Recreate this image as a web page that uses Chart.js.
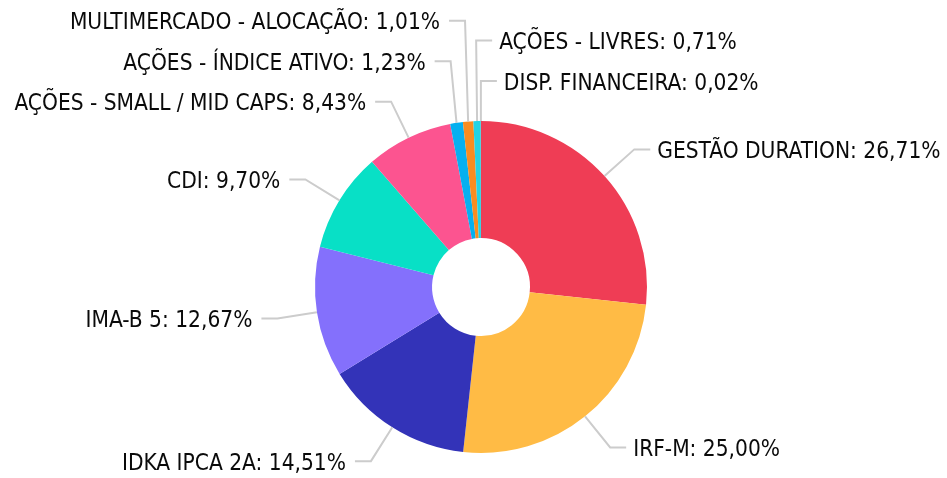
<!DOCTYPE html>
<html>
<head>
<meta charset="utf-8">
<script src="https://cdn.jsdelivr.net/npm/chart.js@4.4.1/dist/chart.umd.min.js"></script>
<style>
  html, body { margin: 0; padding: 0; background: #ffffff; }
  #wrap { width: 947px; height: 478px; }
</style>
</head>
<body>
<div id="wrap"><canvas id="c" width="947" height="478"></canvas></div>
<script>
const categories = [
  "GESTÃO DURATION",
  "IRF-M",
  "IDKA IPCA 2A",
  "IMA-B 5",
  "CDI",
  "AÇÕES - SMALL / MID CAPS",
  "AÇÕES - ÍNDICE ATIVO",
  "MULTIMERCADO - ALOCAÇÃO",
  "AÇÕES - LIVRES",
  "DISP. FINANCEIRA"
];
const values = [26.71, 25.00, 14.51, 12.67, 9.70, 8.43, 1.23, 1.01, 0.71, 0.02];
const colors = [
  "#EF3D55", "#FFBB45", "#3333B8", "#8470FC", "#08E0C6",
  "#FC5490", "#06B0F0", "#F98C20", "#23D3E4", "#9E9E9E"
];

const FONT = '22.5px "DejaVu Sans Condensed", "DejaVu Sans", Verdana, sans-serif';

function fmt(v) {
  return v.toFixed(2).replace('.', ',') + '%';
}

const outsideLabels = {
  id: 'outsideLabels',
  afterDatasetsDraw(chart) {
    const ctx = chart.ctx;
    const meta = chart.getDatasetMeta(0);
    const ext = 40, horiz = 16, gapR = 7, gapL = 9, spacing = 40.5;
    const items = [];
    meta.data.forEach((arc, i) => {
      const p = arc.getProps(['x', 'y', 'startAngle', 'endAngle', 'outerRadius'], true);
      const a = (p.startAngle + p.endAngle) / 2;
      const R = p.outerRadius;
      const ox = p.x + R * Math.cos(a), oy = p.y + R * Math.sin(a);
      const ex = p.x + (R + ext) * Math.cos(a), ey = p.y + (R + ext) * Math.sin(a);
      let theta = a + Math.PI / 2;
      theta = ((theta % (2 * Math.PI)) + 2 * Math.PI) % (2 * Math.PI);
      const right = (ox - p.x) > -6;
      const key = right ? (theta > Math.PI ? theta - 2 * Math.PI : theta) : -theta;
      items.push({ i, ox, oy, ex, ey, right, key });
    });
    [true, false].forEach(side => {
      const list = items.filter(it => it.right === side).sort((a, b) => a.key - b.key);
      for (let k = list.length - 2; k >= 0; k--) {
        if (list[k].ey > list[k + 1].ey - spacing) list[k].ey = list[k + 1].ey - spacing;
      }
      if (list.length && list[0].ey < 14) {
        list[0].ey = 14;
        for (let k = 1; k < list.length; k++) {
          if (list[k].ey < list[k - 1].ey + spacing) list[k].ey = list[k - 1].ey + spacing;
        }
      }
    });
    ctx.save();
    ctx.font = FONT;
    try { ctx.fontStretch = 'condensed'; } catch (e) {}
    ctx.textBaseline = 'middle';
    items.forEach(it => {
      const dir = it.right ? 1 : -1;
      const hx = it.ex + dir * horiz;
      ctx.strokeStyle = '#cccccc';
      ctx.lineWidth = 2;
      ctx.beginPath();
      ctx.moveTo(it.ox, it.oy);
      ctx.lineTo(it.ex, it.ey);
      ctx.lineTo(hx, it.ey);
      ctx.stroke();
      ctx.fillStyle = '#0a0a0a';
      ctx.textAlign = it.right ? 'left' : 'right';
      const tx = hx + dir * (it.right ? gapR : gapL);
      ctx.fillText(categories[it.i] + ': ' + fmt(values[it.i]), tx, it.ey + 3);
    });
    ctx.restore();
  }
};

new Chart(document.getElementById('c'), {
  type: 'doughnut',
  data: {
    labels: categories,
    datasets: [{
      data: values,
      backgroundColor: colors,
      borderWidth: 0,
      hoverOffset: 0,
      offset: 0
    }]
  },
  options: {
    responsive: false,
    animation: false,
    cutout: '29.5%',
    layout: { padding: { left: 315, right: 300, top: 121, bottom: 25 } },
    plugins: {
      legend: { display: false },
      tooltip: { enabled: false }
    }
  },
  plugins: [outsideLabels]
});
</script>
</body>
</html>
